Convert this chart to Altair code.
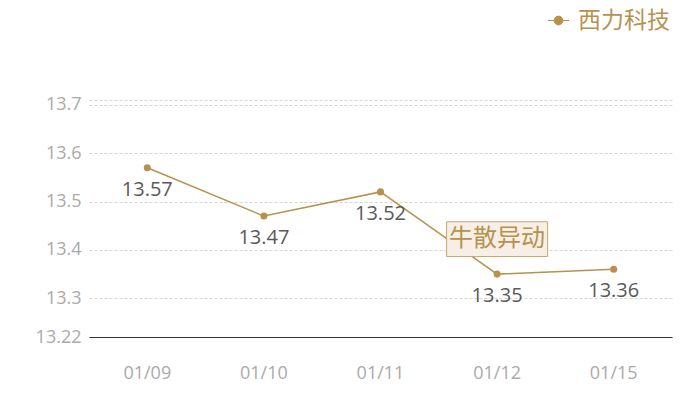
import altair as alt
import pandas as pd

dates = ["01/09", "01/10", "01/11", "01/12", "01/15"]
values = [13.57, 13.47, 13.52, 13.35, 13.36]
series_name = "西力科技"
annotation_date = "01/12"
annotation_text = "牛散异动"
y_ticks = [13.22, 13.3, 13.4, 13.5, 13.6, 13.7, 13.71]

GOLD = "#b8914f"
CJK = "Noto Sans CJK SC"
NUM = "Open Sans"

df = pd.DataFrame({"date": dates, "value": values, "series": series_name})
anno = df[df["date"] == annotation_date].assign(label=annotation_text)

x = alt.X("date:N", sort=dates, title=None,
          scale=alt.Scale(type="band", paddingInner=0, paddingOuter=0),
          axis=alt.Axis(labelColor="#aaaaaa", labelFontSize=18, labelFont=NUM,
                        labelPadding=27, ticks=False, domainColor="#333333",
                        domainWidth=1, grid=False, labelAngle=0))
y = alt.Y("value:Q", title=None,
          scale=alt.Scale(domain=[13.22, 13.71], nice=False, zero=False),
          axis=alt.Axis(values=y_ticks, format=".2~f",
                        labelExpr="datum.value == 13.71 ? '' : datum.label",
                        labelColor="#aaaaaa", labelFontSize=18, labelFont=NUM,
                        labelPadding=8, ticks=False, domain=False,
                        grid=True, gridColor="#d5d5d5", gridDash=[3, 2], gridWidth=1))

color = alt.Color("series:N", title=None,
                  scale=alt.Scale(range=[GOLD]),
                  legend=alt.Legend(orient="none", legendX=458, legendY=-91,
                                    labelFontSize=23, labelColor=GOLD, labelFont=CJK,
                                    symbolType="M-1,0L-0.42,0M0.42,0L1,0M-0.42,0A0.42,0.42,0,1,1,0.42,0A0.42,0.42,0,1,1,-0.42,0Z",
                                    symbolSize=440, symbolStrokeWidth=1,
                                    symbolFillColor=GOLD, symbolStrokeColor=GOLD,
                                    labelOffset=8))

base = alt.Chart(df)
line = base.mark_line(strokeWidth=1.5).encode(x=x, y=y, color=color)
pts = base.mark_point(filled=True, size=50, opacity=1, color=GOLD).encode(x=x, y=y)
labels = base.mark_text(dy=22, fontSize=20, color="#595959", font=NUM).encode(
    x=x, y=y, text=alt.Text("value:Q", format=".2f"))

box = alt.Chart(anno).mark_point(
    shape="M-1,-0.345L1,-0.345L1,0.345L-1,0.345Z", size=10201, filled=True,
    fill="#f5efe6", stroke="#c9a76c", strokeWidth=1, opacity=1, fillOpacity=1,
    yOffset=-35).encode(x=x, y=y)
box_text = alt.Chart(anno).mark_text(
    fontSize=24, color=GOLD, font=CJK, yOffset=-35, baseline="middle").encode(
    x=x, y=y, text="label:N")

chart = alt.layer(line, pts, labels, box, box_text).properties(
    width=583, height=237,
    autosize=alt.AutoSizeParams(type="none"),
    padding={"left": 81, "top": 92, "right": 20, "bottom": 60},
).configure(background="white").configure_view(stroke=None)

chart.save("out.html", embed_options={"renderer": "svg", "actions": False})
